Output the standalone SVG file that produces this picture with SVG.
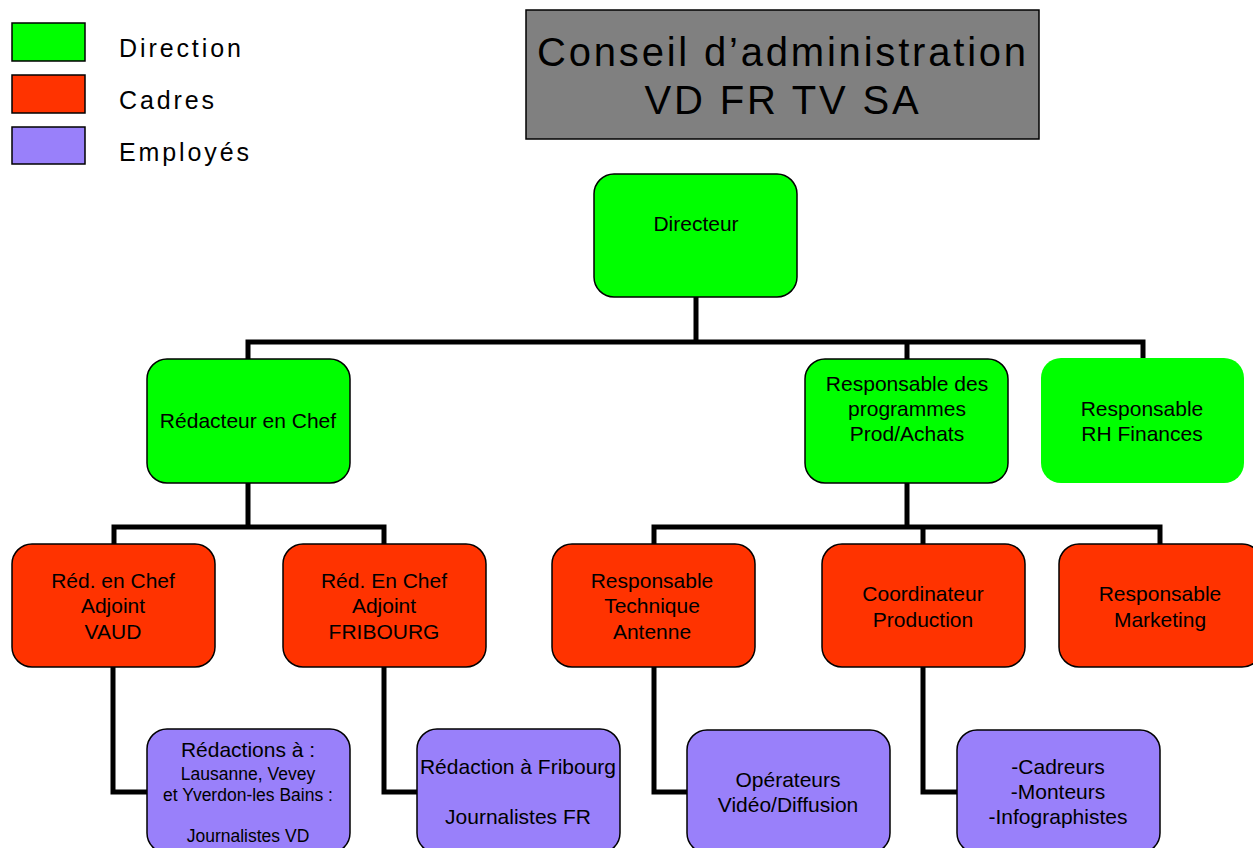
<svg xmlns="http://www.w3.org/2000/svg" width="1253" height="848" viewBox="0 0 1253 848">
<style>
  text { font-family: "Liberation Sans", Arial, sans-serif; fill: #000; }
  .n { font-size: 21px; text-anchor: middle; }
  .s { font-size: 17.5px; text-anchor: middle; }
  .leg { font-size: 25px; letter-spacing: 2.9px; }
  .title { font-size: 40px; letter-spacing: 2.8px; text-anchor: middle; }
  .box { stroke: #000; stroke-width: 1.5; }
  .dir { fill: #00FF00; }
  .cad { fill: #FF3300; }
  .emp { fill: #9980FA; }
  .conn { fill: none; stroke: #000; stroke-width: 5; stroke-linejoin: miter; }
</style>
<rect width="1253" height="848" fill="#fff"/>

<g id="legend">
  <rect x="12" y="23" width="73" height="38" class="box dir"/>
  <rect x="12" y="75" width="73" height="38" class="box cad"/>
  <rect x="12" y="127" width="73" height="37" class="box emp"/>
  <text x="119" y="57" class="leg">Direction</text>
  <text x="119" y="109" class="leg">Cadres</text>
  <text x="119" y="161" class="leg">Employés</text>
</g>

<g id="title">
  <rect x="526" y="10" width="513" height="129" fill="#808080" class="box"/>
  <text x="783" y="66" class="title">Conseil d’administration</text>
  <text x="783" y="114" class="title">VD FR TV SA</text>
</g>

<g id="connectors">
  <path class="conn" d="M696 297 V342 M248 359 V342 H1143 V359 M907 342 V359"/>
  <path class="conn" d="M248 483 V527 M114 544 V527 H384 V544"/>
  <path class="conn" d="M907 483 V527 M654 544 V527 H1160 V544 M923 527 V544"/>
  <path class="conn" d="M113 667 V792 H147"/>
  <path class="conn" d="M384 667 V792 H417"/>
  <path class="conn" d="M654 667 V792 H687"/>
  <path class="conn" d="M923 667 V792 H957"/>
</g>

<g id="directeur">
  <rect x="594" y="174" width="203" height="123" rx="20" class="box dir"/>
  <text x="696" y="231" class="n">Directeur</text>
</g>

<g id="redacteur-chef">
  <rect x="147" y="359" width="203" height="124" rx="20" class="box dir"/>
  <text x="248" y="428" class="n">Rédacteur en Chef</text>
</g>

<g id="resp-programmes">
  <rect x="805" y="359" width="203" height="124" rx="20" class="box dir"/>
  <text x="907" y="391" class="n">Responsable des</text>
  <text x="907" y="416" class="n">programmes</text>
  <text x="907" y="441" class="n">Prod/Achats</text>
</g>

<g id="resp-rh">
  <rect x="1041" y="358" width="203" height="125" rx="20" class="dir"/>
  <text x="1142" y="416" class="n">Responsable</text>
  <text x="1142" y="441" class="n">RH Finances</text>
</g>

<g id="red-vaud">
  <rect x="12" y="544" width="203" height="123" rx="20" class="box cad"/>
  <text x="113" y="588" class="n">Réd. en Chef</text>
  <text x="113" y="613" class="n">Adjoint</text>
  <text x="113" y="639" class="n">VAUD</text>
</g>

<g id="red-fribourg">
  <rect x="283" y="544" width="203" height="123" rx="20" class="box cad"/>
  <text x="384" y="588" class="n">Réd. En Chef</text>
  <text x="384" y="613" class="n">Adjoint</text>
  <text x="384" y="639" class="n">FRIBOURG</text>
</g>

<g id="resp-technique">
  <rect x="552" y="544" width="203" height="123" rx="20" class="box cad"/>
  <text x="652" y="588" class="n">Responsable</text>
  <text x="652" y="613" class="n">Technique</text>
  <text x="652" y="639" class="n">Antenne</text>
</g>

<g id="coordinateur">
  <rect x="822" y="544" width="203" height="123" rx="20" class="box cad"/>
  <text x="923" y="601" class="n">Coordinateur</text>
  <text x="923" y="627" class="n">Production</text>
</g>

<g id="marketing">
  <rect x="1059" y="544" width="203" height="123" rx="20" class="box cad"/>
  <text x="1160" y="601" class="n">Responsable</text>
  <text x="1160" y="627" class="n">Marketing</text>
</g>

<g id="redactions-vd">
  <rect x="147" y="729" width="203" height="124" rx="20" class="box emp"/>
  <text x="248" y="757" class="n">Rédactions à :</text>
  <text x="248" y="780" class="s">Lausanne, Vevey</text>
  <text x="248" y="801" class="s">et Yverdon-les Bains :</text>
  <text x="248" y="842" class="s">Journalistes VD</text>
</g>

<g id="redaction-fr">
  <rect x="417" y="729" width="203" height="124" rx="20" class="box emp"/>
  <text x="518" y="774" class="n">Rédaction à Fribourg</text>
  <text x="518" y="824" class="n">Journalistes FR</text>
</g>

<g id="operateurs">
  <rect x="687" y="730" width="203" height="123" rx="20" class="box emp"/>
  <text x="788" y="787" class="n">Opérateurs</text>
  <text x="788" y="812" class="n">Vidéo/Diffusion</text>
</g>

<g id="cadreurs">
  <rect x="957" y="730" width="203" height="123" rx="20" class="box emp"/>
  <text x="1058" y="774" class="n">-Cadreurs</text>
  <text x="1058" y="799" class="n">-Monteurs</text>
  <text x="1058" y="824" class="n">-Infographistes</text>
</g>
</svg>
